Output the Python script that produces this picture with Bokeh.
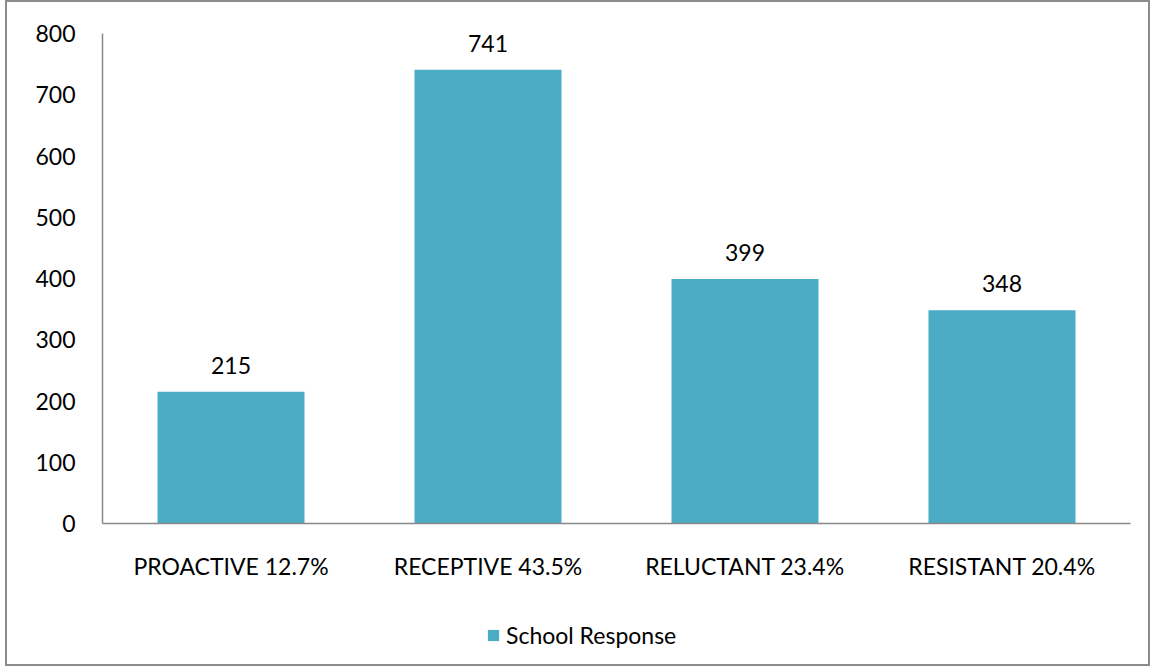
from bokeh.plotting import figure
from bokeh.layouts import column
from bokeh.models import ColumnDataSource, FactorRange, Range1d, FixedTicker, LabelSet, Legend, LegendItem
from bokeh.core.properties import value
from bokeh.embed import file_html
from bokeh.resources import INLINE

categories = ["PROACTIVE 12.7%", "RECEPTIVE 43.5%", "RELUCTANT 23.4%", "RESISTANT 20.4%"]
counts = [215, 741, 399, 348]
series_name = "School Response"
y_ticks = [0, 100, 200, 300, 400, 500, 600, 700, 800]

FONT = "Lato"
BAR = "#4BACC6"
AXIS = "#898989"

src = ColumnDataSource(dict(cat=categories, val=counts, lab=[str(v) for v in counts]))

W = 1141
p = figure(x_range=FactorRange(*categories, range_padding=0), y_range=Range1d(0, 800),
           width=W, height=600, output_backend="svg", toolbar_location=None,
           min_border_left=95, min_border_right=18, min_border_top=31, min_border_bottom=79)

r = p.vbar(x="cat", top="val", width=0.572, source=src, fill_color=BAR, line_color=None)

labels = LabelSet(x="cat", y="val", text="lab", source=src, text_align="center", text_baseline="bottom",
                  y_offset=18, text_font=value(FONT), text_font_size=value("23px"), text_color="#000000")
p.add_layout(labels)

p.xgrid.grid_line_color = None
p.ygrid.grid_line_color = None
p.outline_line_color = None

p.yaxis.ticker = FixedTicker(ticks=y_ticks)
for ax in (p.xaxis[0], p.yaxis[0]):
    ax.axis_line_color = AXIS
    ax.axis_line_width = 1.5
    ax.major_tick_line_color = None
    ax.minor_tick_line_color = None
    ax.major_label_text_font = FONT
    ax.major_label_text_font_size = "23px"
    ax.major_label_text_color = "#000000"
p.yaxis.major_label_standoff = 21
p.xaxis.major_label_standoff = 22

# legend strip below the chart (zero-width bars: only the legend shows)
p2 = figure(x_range=FactorRange(*categories), y_range=Range1d(-2000, -1999),
            width=W, height=62, output_backend="svg", toolbar_location=None,
            x_axis_location=None, y_axis_location=None,
            min_border_left=0, min_border_right=0, min_border_top=0, min_border_bottom=0)
p2.grid.grid_line_color = None
p2.outline_line_color = None
r2 = p2.vbar(x="cat", top="val", width=0, source=src, fill_color=BAR, line_color=None)
legend = Legend(items=[LegendItem(label=series_name, renderers=[r2])], location=(384, 15),
                orientation="horizontal", label_text_font=FONT, label_text_font_size="23px",
                label_text_color="#000000",
                border_line_color=None, background_fill_alpha=0, glyph_width=14, glyph_height=14,
                label_standoff=6, margin=0, padding=0)
p2.add_layout(legend, "center")

layout = column(p, p2, spacing=0, styles={"border": "2px solid #8c8c8c", "margin-left": "5px"})

open("out.html", "w").write(file_html(layout, INLINE))
